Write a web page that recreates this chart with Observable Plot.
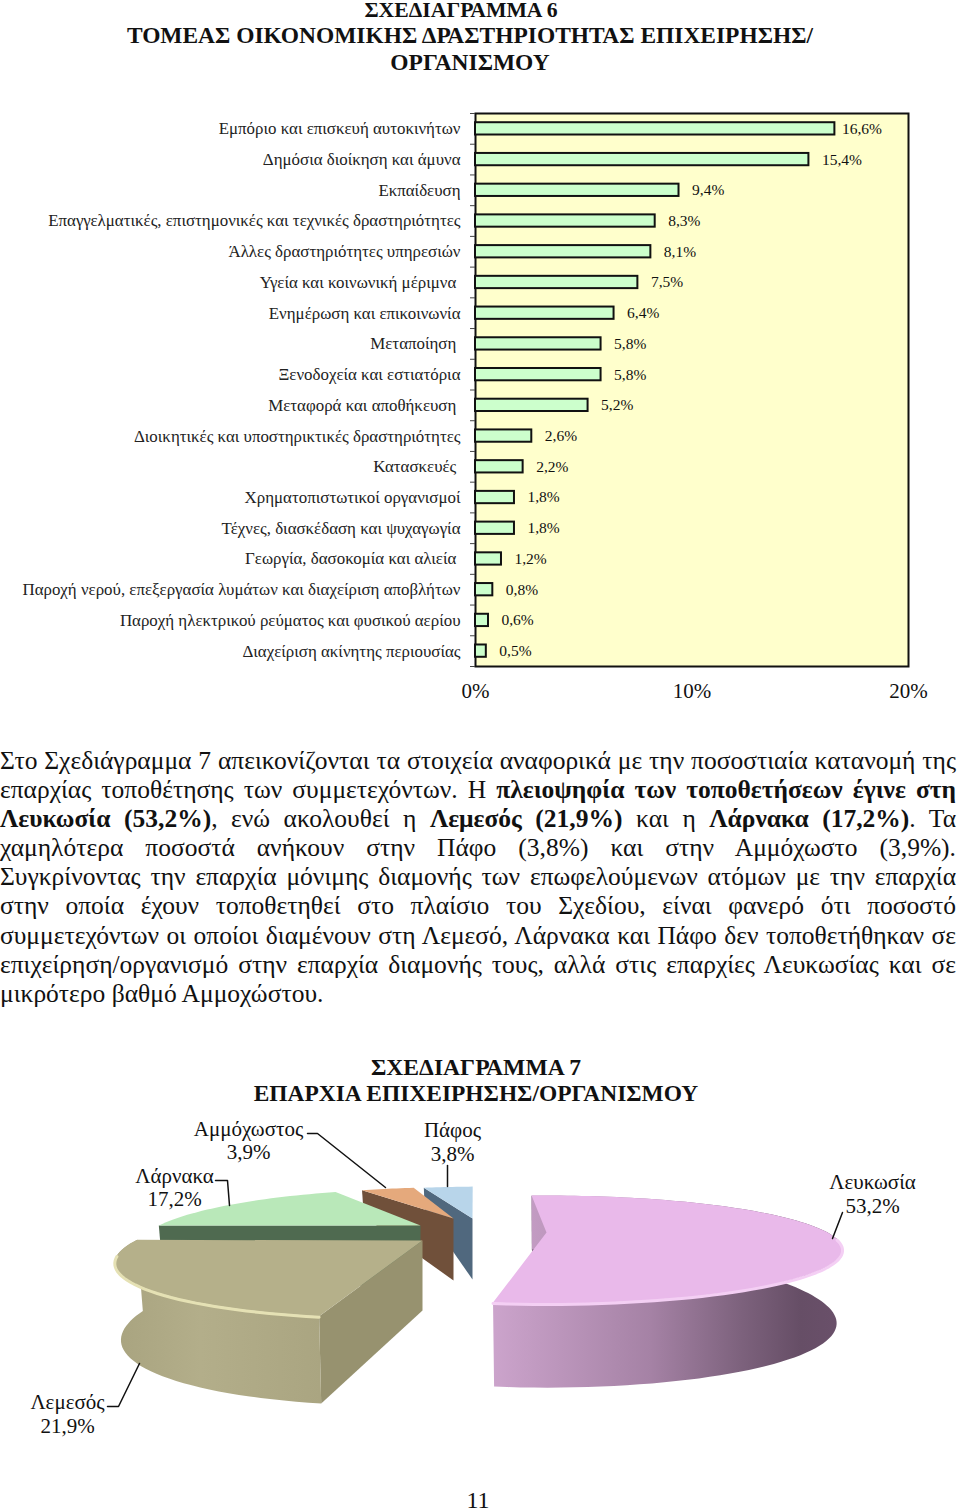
<!DOCTYPE html>
<html lang="el">
<head>
<meta charset="utf-8">
<script src="https://cdn.jsdelivr.net/npm/d3@7"></script>
<script src="https://cdn.jsdelivr.net/npm/@observablehq/plot@0.6"></script>
<style>
html,body{margin:0;padding:0;background:#fff;}
body{position:relative;width:960px;height:1511px;overflow:hidden;font-family:"Liberation Serif",serif;color:#111;}
.t{position:absolute;white-space:nowrap;transform:translate(-50%,-50%);font-weight:bold;font-size:23.45px;}
#para{position:absolute;left:0;top:746px;width:956px;font-size:25.5px;line-height:29.1px;}
#para div{text-align:justify;text-align-last:justify;}
#para div.last{text-align-last:left;}
#bars,#pie{position:absolute;left:0;}
#bars{top:100px;}
#pie{top:1040px;}
svg{display:block;}
#defs{position:absolute;left:0;top:0;width:0;height:0;}
</style>
</head>
<body>
<div class="t" style="left:461px;top:10px;font-size:21.7px">ΣΧΕΔΙΑΓΡΑΜΜΑ 6</div>
<div class="t" style="left:470px;top:35px">ΤΟΜΕΑΣ ΟΙΚΟΝΟΜΙΚΗΣ ΔΡΑΣΤΗΡΙΟΤΗΤΑΣ ΕΠΙΧΕΙΡΗΣΗΣ/</div>
<div class="t" style="left:470px;top:62px">ΟΡΓΑΝΙΣΜΟΥ</div>
<div id="bars"></div>
<div id="para">
<div>Στο Σχεδιάγραμμα 7 απεικονίζονται τα στοιχεία αναφορικά με την ποσοστιαία κατανομή της</div>
<div>επαρχίας τοποθέτησης των συμμετεχόντων. Η <b>πλειοψηφία των τοποθετήσεων έγινε στη</b></div>
<div><b>Λευκωσία (53,2%)</b>, ενώ ακολουθεί η <b>Λεμεσός (21,9%)</b> και η <b>Λάρνακα (17,2%)</b>. Τα</div>
<div>χαμηλότερα ποσοστά ανήκουν στην Πάφο (3,8%) και στην Αμμόχωστο (3,9%).</div>
<div>Συγκρίνοντας την επαρχία μόνιμης διαμονής των επωφελούμενων ατόμων με την επαρχία</div>
<div>στην οποία έχουν τοποθετηθεί στο πλαίσιο του Σχεδίου, είναι φανερό ότι ποσοστό</div>
<div>συμμετεχόντων οι οποίοι διαμένουν στη Λεμεσό, Λάρνακα και Πάφο δεν τοποθετήθηκαν σε</div>
<div>επιχείρηση/οργανισμό στην επαρχία διαμονής τους, αλλά στις επαρχίες Λευκωσίας και σε</div>
<div class="last">μικρότερο βαθμό Αμμοχώστου.</div>
</div>
<div class="t" style="left:476px;top:1067px;font-size:23.6px">ΣΧΕΔΙΑΓΡΑΜΜΑ 7</div>
<div class="t" style="left:476px;top:1093px">ΕΠΑΡΧΙΑ ΕΠΙΧΕΙΡΗΣΗΣ/ΟΡΓΑΝΙΣΜΟΥ</div>
<svg id="defs"></svg>
<div id="pie"></div>
<div class="t" style="left:478px;top:1500px;font-weight:normal;font-size:24px">11</div>
<script>
// ---- Chart 6 data
const sectors = [
  "Εμπόριο και επισκευή αυτοκινήτων",
  "Δημόσια διοίκηση και άμυνα",
  "Εκπαίδευση",
  "Επαγγελματικές, επιστημονικές και τεχνικές δραστηριότητες",
  "Άλλες δραστηριότητες υπηρεσιών",
  "Υγεία και κοινωνική μέριμνα",
  "Ενημέρωση και επικοινωνία",
  "Μεταποίηση",
  "Ξενοδοχεία και εστιατόρια",
  "Μεταφορά και αποθήκευση",
  "Διοικητικές και υποστηρικτικές δραστηριότητες",
  "Κατασκευές",
  "Χρηματοπιστωτικοί οργανισμοί",
  "Τέχνες, διασκέδαση και ψυχαγωγία",
  "Γεωργία, δασοκομία και αλιεία",
  "Παροχή νερού, επεξεργασία λυμάτων και διαχείριση αποβλήτων",
  "Παροχή ηλεκτρικού ρεύματος και φυσικού αερίου",
  "Διαχείριση ακίνητης περιουσίας"
];
const sectorShares = [16.6,15.4,9.4,8.3,8.1,7.5,6.4,5.8,5.8,5.2,2.6,2.2,1.8,1.8,1.2,0.8,0.6,0.5];
const xTicks = [0,10,20];
const indented = new Set(["Υγεία και κοινωνική μέριμνα","Μεταποίηση","Μεταφορά και αποθήκευση","Κατασκευές","Γεωργία, δασοκομία και αλιεία"]);

// ---- Chart 7 data
const regions = ["Λευκωσία","Λεμεσός","Λάρνακα","Αμμόχωστος","Πάφος"];
const regionShares = [53.2,21.9,17.2,3.9,3.8];

const comma = v => v.toFixed(1).replace(".",",") + "%";
const sectorRows = sectors.map((s,i)=>({s,v:sectorShares[i]}));

const STEP = 553/18;
document.getElementById("bars").append(Plot.plot({
  width:960,height:620,
  marginLeft:475,marginRight:52,marginTop:13,marginBottom:54,
  style:{fontFamily:"Liberation Serif, serif",background:"transparent",color:"#111"},
  x:{domain:[0,20]},
  y:{domain:sectors,paddingInner:0.6,paddingOuter:0.3,round:false},
  marks:[
    Plot.frame({fill:"#ffffcc",stroke:"#111",strokeWidth:2}),
    Plot.ruleY(sectors,{y:d=>d,x1:-0.23,x2:0,dy:-STEP/2,stroke:"#444",strokeWidth:1}),
    Plot.ruleY(sectors.slice(-1),{y:d=>d,x1:-0.23,x2:0,dy:STEP/2,stroke:"#444",strokeWidth:1}),
    Plot.barX(sectorRows,{x:"v",y:"s",fill:"#ccffcc",stroke:"#111",strokeWidth:2}),
    Plot.text(sectorRows.slice(0,1),{x:"v",y:"s",text:d=>comma(d.v),dx:7,textAnchor:"start",fontSize:15.5,fill:"#111"}),
    Plot.text(sectorRows.slice(1),{x:"v",y:"s",text:d=>comma(d.v),dx:13,textAnchor:"start",fontSize:15.5,fill:"#111"}),
    Plot.axisY({tickSize:0,tickPadding:15,fontSize:16.9,label:null,tickFormat:d=>indented.has(d)?d+"\u00a0":d,fill:"#222"}),
    Plot.axisX({ticks:xTicks,tickSize:0,tickPadding:17,fontSize:21,label:null,tickFormat:d=>d+"%",fill:"#111"})
  ]
}));

// ---- 3D exploded pie: angles come from regionShares
const rad = d=>d*Math.PI/180;
const START = -4;
const arcs = d3.pie().sort(null).startAngle(rad(START)).endAngle(rad(START+360))(regionShares);

// view of each exploded slice (perspective pie seen from above)
const views = [
  {apex:[546,1232],w:281,h:48.6,k:.315,s:0,  t:0,wall:69,flare:.22,top:"#e9b9ea",side:"#6a4f6a",grad:[[495,"#cba3cb"],[650,"#a582a5"],[740,"#7d627d"],[800,"#664e66"],[842,"#6a506a"]],rim:"#f4cff4",rimY:.1},
  {apex:[422,1240],w:278,h:53,  k:.315,s:-35,t:4,wall:70,flare:.25,top:"#b5b08a",side:"#97926f",grad:[[110,"#a8a37f"],[200,"#b3ae8a"],[320,"#aaa581"]],rim:"#e5e1b4",rimY:.3},
  {apex:[420,1225],w:255,h:48,  k:.315,s:-31,t:3,wall:60,flare:.25,top:"#b9e8b9",side:"#4f6a50"},
  {apex:[453,1218],w:274,h:42,  k:.315,s:-33,t:0,wall:62,flare:.68,top:"#e5a97c",side:"#70503a"},
  {apex:[472,1218],w:268,h:42,  k:.315,s:-19,t:0,wall:61,flare:.65,top:"#b8d5ea",side:"#50687e"}
];
function project(v,th){
  const X=Math.sin(th),Y=-Math.cos(th),p=1/(1-v.k*Y);
  return {x:v.apex[0]+(v.w*X+v.s*Y)*p,y:v.apex[1]+(v.h*Y+v.t*X)*p,Y};
}
function drop(v,q){
  return {x:v.apex[0]+(q.x-v.apex[0])*.98,y:q.y+v.wall*(1+v.flare*q.Y)};
}
// wall shading as SVG gradients
const defs=d3.select("#defs").append("defs");
views.forEach((v,i)=>{
  if(!v.grad) return;
  const x0=v.grad[0][0],x1=v.grad[v.grad.length-1][0];
  const g=defs.append("linearGradient").attr("id","wall"+i).attr("gradientUnits","userSpaceOnUse")
    .attr("x1",x0).attr("x2",x1).attr("y1",0).attr("y2",0);
  v.grad.forEach(([x,c])=>g.append("stop").attr("offset",(x-x0)/(x1-x0)).attr("stop-color",c));
});
const polys=[],rims=[];
let pid=0;
function addPoly(pts,fill){const id=pid++;pts.forEach(q=>polys.push({id,x:q.x,y:q.y,fill}));}
// far slices are painted first
[4,3,0,2,1].forEach(i=>{
  const v=views[i],a=arcs[i],n=Math.max(12,Math.round((a.endAngle-a.startAngle)*30));
  const arc=d3.range(n+1).map(j=>project(v,a.startAngle+(a.endAngle-a.startAngle)*j/n));
  const A={x:v.apex[0],y:v.apex[1],Y:0};
  // radial wall at the slice's starting edge
  addPoly([A,arc[0],drop(v,arc[0]),drop(v,A)],v.side);
  // curved outer wall
  if(v.grad) addPoly([...arc,...arc.map(q=>drop(v,q)).reverse()],`url(#wall${i})`);
  // top face
  addPoly([A,...arc],v.top);
  // highlight along the near rim
  if(v.rim){
    const id=pid++;
    arc.filter(q=>q.Y>v.rimY).forEach(q=>rims.push({id,x:q.x,y:q.y+1,stroke:v.rim}));
  }
});
const pieLabels = regions.map((r,i)=>r+"\n"+comma(regionShares[i]));
const labelSpots = [[872,1193],[67,1413],[174,1186.5],[248,1139.5],[452,1141]];
const leaderRoutes = [
  [[842,1212],[832,1238]],
  [[107,1406],[118,1406],[139,1363]],
  [[215,1180],[227,1180],[229,1205]],
  [[307,1133],[317,1133],[385,1187]],
  [[447,1165],[447,1186]]
];
const leaders = leaderRoutes.flatMap((r,id)=>r.map(([x,y])=>({id,x,y})));
document.getElementById("pie").append(Plot.plot({
  width:960,height:471,margin:0,
  style:{fontFamily:"Liberation Serif, serif",background:"transparent",color:"#111"},
  x:{domain:[0,960],axis:null},
  y:{domain:[1040,1511],range:[0,471],axis:null},
  color:{type:"identity"},
  marks:[
    Plot.line(polys,{x:"x",y:"y",z:"id",fill:"fill",stroke:"none",curve:"linear"}),
    Plot.line(rims,{x:"x",y:"y",z:"id",stroke:"stroke",strokeWidth:3,curve:"linear"}),
    Plot.line(leaders,{x:"x",y:"y",z:"id",stroke:"#111",strokeWidth:1.5,curve:"linear"}),
    Plot.text(pieLabels,{x:(d,i)=>labelSpots[i][0],y:(d,i)=>labelSpots[i][1],text:d=>d,fontSize:21,lineHeight:1.12,fill:"#111"})
  ]
}));
</script>
</body>
</html>
